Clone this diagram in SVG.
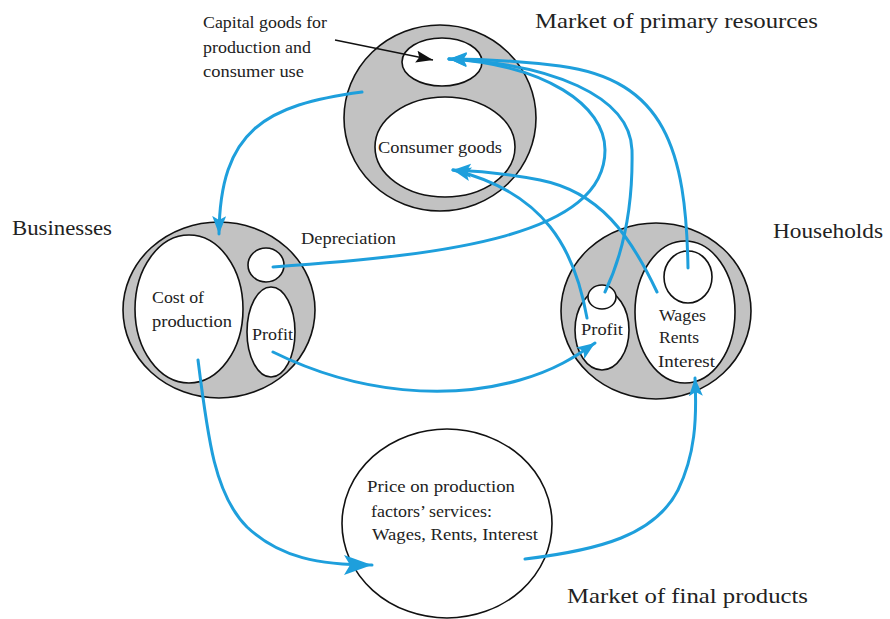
<svg xmlns="http://www.w3.org/2000/svg" width="890" height="619" viewBox="0 0 890 619">
<style>
.outer{fill:#c2c2c2;stroke:#111;stroke-width:1.6}
.inner{fill:#fff;stroke:#111;stroke-width:1.6}
.t{font-family:"Liberation Serif",serif;font-size:17px;fill:#222}
.big{font-size:21px}
.flow{fill:none;stroke:#1e9fdc;stroke-width:3;stroke-linecap:round}
</style>
<defs>
<marker id="ah" markerUnits="userSpaceOnUse" markerWidth="20" markerHeight="16" refX="18" refY="7" orient="auto">
<path d="M0,0 L18,7 L0,14 L4,7 z" fill="#1e9fdc"/>
</marker>
<marker id="ahb" markerUnits="userSpaceOnUse" markerWidth="30" markerHeight="22" refX="28" refY="10" orient="auto">
<path d="M0,0 L28,10 L0,20 L6,10 z" fill="#1e9fdc"/>
</marker>
<marker id="ak" markerUnits="userSpaceOnUse" markerWidth="20" markerHeight="14" refX="17" refY="6" orient="auto">
<path d="M0,0 L17,6 L0,12 L3,6 z" fill="#111"/>
</marker>
</defs>

<g id="market-primary">
<ellipse class="outer" cx="440" cy="118" rx="96" ry="93"/>
<ellipse class="inner" cx="442" cy="62" rx="40" ry="24"/>
<ellipse class="inner" cx="445" cy="147" rx="70" ry="50"/>
<text class="t" x="378" y="153" textLength="124" lengthAdjust="spacingAndGlyphs">Consumer goods</text>
<text class="t big" x="535" y="28" textLength="283" lengthAdjust="spacingAndGlyphs">Market of primary resources</text>
</g>

<g id="capital-label">
<text class="t" x="203" y="28" textLength="124" lengthAdjust="spacingAndGlyphs">Capital goods for</text>
<text class="t" x="203" y="53" textLength="108" lengthAdjust="spacingAndGlyphs">production and</text>
<text class="t" x="203" y="77" textLength="101" lengthAdjust="spacingAndGlyphs">consumer use</text>
</g>

<g id="businesses">
<ellipse class="outer" cx="219" cy="310" rx="96" ry="88"/>
<ellipse class="inner" cx="189" cy="309" rx="54" ry="74"/>
<ellipse class="inner" cx="266" cy="265" rx="18" ry="17"/>
<ellipse class="inner" cx="271" cy="332" rx="24" ry="45"/>
<text class="t" x="152" y="303" textLength="52" lengthAdjust="spacingAndGlyphs">Cost of</text>
<text class="t" x="152" y="327" textLength="80" lengthAdjust="spacingAndGlyphs">production</text>
<text class="t" x="252" y="340" textLength="41" lengthAdjust="spacingAndGlyphs">Profit</text>
<text class="t" x="301" y="244" textLength="95" lengthAdjust="spacingAndGlyphs">Depreciation</text>
<text class="t big" x="12" y="235" textLength="100" lengthAdjust="spacingAndGlyphs">Businesses</text>
</g>

<g id="households">
<ellipse class="outer" cx="656" cy="311" rx="95" ry="88"/>
<ellipse class="inner" cx="602" cy="330" rx="27" ry="40"/>
<ellipse class="inner" cx="602" cy="297" rx="14" ry="12"/>
<ellipse class="inner" cx="685" cy="312" rx="50" ry="71"/>
<ellipse class="inner" cx="688" cy="277" rx="24" ry="26"/>
<text class="t" x="581" y="335" textLength="42" lengthAdjust="spacingAndGlyphs">Profit</text>
<text class="t" x="659" y="321" textLength="47" lengthAdjust="spacingAndGlyphs">Wages</text>
<text class="t" x="659" y="343" textLength="40" lengthAdjust="spacingAndGlyphs">Rents</text>
<text class="t" x="658" y="367" textLength="57" lengthAdjust="spacingAndGlyphs">Interest</text>
<text class="t big" x="773" y="238" textLength="110" lengthAdjust="spacingAndGlyphs">Households</text>
</g>

<g id="market-final">
<ellipse class="inner" cx="447" cy="523.5" rx="105" ry="94.5"/>
<text class="t" x="367" y="492" textLength="148" lengthAdjust="spacingAndGlyphs">Price on production</text>
<text class="t" x="371" y="517" textLength="121" lengthAdjust="spacingAndGlyphs">factors’ services:</text>
<text class="t" x="372" y="540" textLength="166" lengthAdjust="spacingAndGlyphs">Wages, Rents, Interest</text>
<text class="t big" x="567" y="603" textLength="241" lengthAdjust="spacingAndGlyphs">Market of final products</text>
</g>

<g id="connectors">
<path d="M335,40 L433,60" fill="none" stroke="#111" stroke-width="1.3" marker-end="url(#ak)"/>
<path class="flow" d="M362,92 C265,105 220,130 219,234" marker-end="url(#ah)"/>
<path class="flow" d="M273,267 C450,255 605,235 605,150 C605,105 545,65 449,59" marker-end="url(#ah)"/>
<path class="flow" d="M605,292 C625,250 633,200 632,150 C630,95 550,64 449,59" marker-end="url(#ah)"/>
<path class="flow" d="M688,268 C686,150 665,80 560,66 C520,61 480,59 449,59" marker-end="url(#ah)"/>
<path class="flow" d="M587,318 C575,250 545,192 453,170" marker-end="url(#ah)"/>
<path class="flow" d="M657,292 C630,235 600,192 540,180 C510,174 480,171 453,170" marker-end="url(#ah)"/>
<path class="flow" d="M273,352 C360,395 450,400 520,380 C555,370 575,357 595,343" marker-end="url(#ah)"/>
<path class="flow" d="M198,360 C208,440 215,495 247,527 C280,558 320,565 372,565" marker-end="url(#ahb)"/>
<path class="flow" d="M525,559 C600,550 655,535 678,490 C695,455 697,420 695,378" marker-end="url(#ah)"/>
</g>
</svg>
